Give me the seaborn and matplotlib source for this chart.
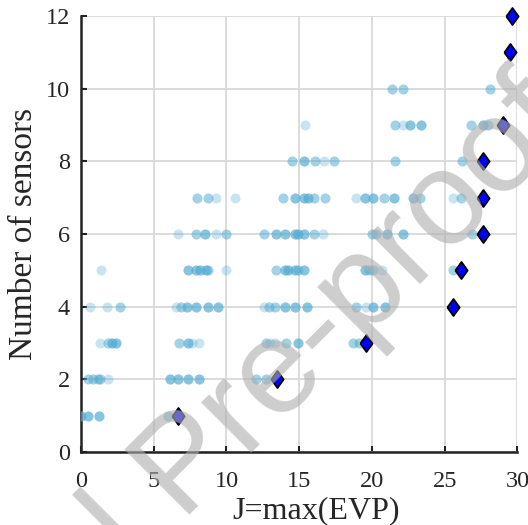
import numpy as np
import pandas as pd
import seaborn as sns
import matplotlib.pyplot as plt
from matplotlib.markers import MarkerStyle

sns.set_style('whitegrid')
plt.rcParams['font.family'] = ['Liberation Serif', 'DejaVu Serif']

# all evaluated sensor layouts: J value, number of sensors, how many land on the same spot
sol_x = [0.0, 0.45, 1.25, 6.0,
         0.5, 0.85, 1.15, 1.3, 1.85, 6.1, 6.7, 7.35, 8.1, 12.0, 12.7,
         1.3, 1.85, 2.1, 2.4, 6.75, 7.35, 7.6, 8.1, 12.7, 13.0, 13.3, 14.1, 14.9, 18.7, 19.1,
         0.6, 1.8, 2.65, 6.55, 6.9, 7.3, 7.9, 8.7, 9.4, 12.6, 12.9, 13.3, 14.0, 14.7, 15.5,
         18.9, 19.6, 20.1, 20.9,
         1.4, 7.35, 7.9, 8.15, 8.6, 8.7, 10.0, 13.4, 14.0, 14.2, 14.7, 14.9, 15.3, 19.5, 19.8,
         20.1, 20.7, 25.6,
         6.7, 7.9, 8.5, 9.3, 10.0, 12.6, 13.4, 14.0, 14.7, 14.9, 15.3, 16.0, 16.6, 20.0, 20.25,
         21.0, 22.1, 26.9,
         8.0, 8.7, 9.3, 10.6, 13.9, 14.7, 15.3, 15.6, 16.0, 16.8, 18.9, 19.5, 20.1, 20.8, 21.5,
         22.8, 23.3, 25.6, 26.1,
         14.5, 15.3, 16.1, 16.7, 17.4, 21.6, 26.2,
         15.4, 21.6, 22.1, 22.6, 23.4, 26.8, 27.6, 28.0,
         21.4, 22.1, 28.1]
sol_y = [1] * 4 + [2] * 11 + [3] * 15 + [4] * 19 + [5] * 18 + [6] * 18 + [7] * 19 \
    + [8] * 7 + [9] * 8 + [10] * 3
sol_n = [3, 3, 3, 2,
         2, 2, 2, 2, 1, 3, 3, 3, 3, 2, 2,
         1, 2, 3, 3, 2, 3, 1, 1, 2, 1, 1, 2, 3, 2, 2,
         1, 1, 2, 1, 2, 3, 3, 3, 3, 1, 2, 2, 3, 3, 3, 2, 1, 3, 3,
         1, 3, 3, 3, 3, 2, 1, 2, 3, 3, 3, 2, 3, 3, 2, 2, 1, 2,
         1, 2, 3, 1, 2, 2, 3, 3, 3, 3, 3, 2, 1, 2, 2, 3, 3, 2,
         2, 2, 1, 1, 2, 3, 3, 3, 2, 2, 1, 3, 3, 2, 3, 3, 2, 1, 2,
         2, 3, 2, 1, 2, 2, 2,
         1, 2, 1, 3, 3, 2, 3, 2,
         2, 2, 2]

# best layout for each sensor count
best_x = [6.65, 13.5, 19.6, 25.6, 26.15, 27.6, 27.6, 27.6, 29.0, 29.5, 29.65]
best_y = [1, 2, 3, 4, 5, 6, 7, 8, 9, 11, 12]

df = pd.DataFrame({"J": np.repeat(sol_x, sol_n), "n": np.repeat(sol_y, sol_n)})
best = pd.DataFrame({"J": best_x, "n": best_y})

fig = plt.figure(figsize=(5.28, 5.25), dpi=100)
ax = fig.add_axes([0.1534, 0.139, 0.8267, 0.8305])

sns.scatterplot(data=df, x="J", y="n", color="#52acd3", alpha=0.32, s=52,
                linewidth=0, ax=ax, zorder=3)
diamond = MarkerStyle([(-0.72, 0), (0, 1), (0.72, 0), (0, -1), (-0.72, 0)])
sns.scatterplot(data=best, x="J", y="n", marker=diamond, color="#0000ff", s=150,
                edgecolor="black", linewidth=1.3, ax=ax, zorder=4, clip_on=False)

ax.set_xlim(0, 30)
ax.set_ylim(0, 12)
ax.set_xticks(range(0, 31, 5))
ax.set_yticks(range(0, 13, 2))
ax.set_xlabel("J=max(EVP)", fontsize=23)
ax.set_ylabel("Number of sensors", fontsize=24)
ax.xaxis.set_label_coords(0.538, -0.101)
ax.yaxis.set_label_coords(-0.097, 0.5)
ax.tick_params(labelsize=17.5, direction='in', length=4, width=1.5, color='#222222',
               bottom=True, left=True)
ax.tick_params(axis='x', pad=14)
ax.tick_params(axis='y', pad=8)
ax.grid(True, color='#d9d9d9', linewidth=1.3)
for side in ['top', 'right']:
    ax.spines[side].set_visible(False)
for side in ['left', 'bottom']:
    ax.spines[side].set_color('#222222')
    ax.spines[side].set_linewidth(1.8)

# journal watermark over the figure
fig.text(1.094, 0.758, "Journal Pre-proof", fontsize=96.5, family='Liberation Sans',
         color='#afafaf', alpha=0.62, rotation=45, rotation_mode='anchor',
         ha='right', va='baseline', zorder=10)

plt.savefig("out.png", dpi=100)
